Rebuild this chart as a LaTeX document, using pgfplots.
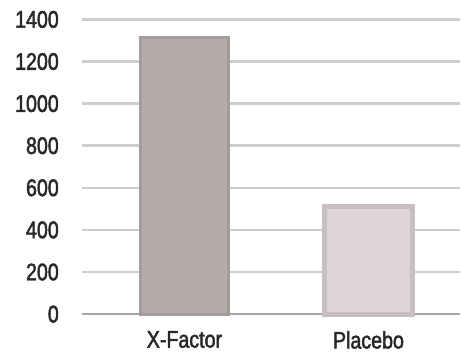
\documentclass[border=0pt]{standalone}
\usepackage{pgfplots}
\pgfplotsset{compat=1.18}
\usepackage{fontspec}
\setmainfont{Liberation Sans}[FakeStretch=0.82, FakeBold=2]
\definecolor{gridc}{RGB}{205,205,205}
\definecolor{xf}{RGB}{182,171,171}
\definecolor{xfb}{RGB}{165,155,155}
\definecolor{pl}{RGB}{222,214,214}
\definecolor{plb}{RGB}{200,192,192}
\definecolor{txt}{RGB}{40,40,40}
\begin{document}
\begin{tikzpicture}
\begin{axis}[
  scale only axis,
  width=189.5pt, height=147.75pt,
  xmin=-0.558, xmax=1.496,
  ymin=0, ymax=1400,
  ytick={0,200,...,1400},
  xtick={0,1},
  xticklabels={X-Factor,Placebo},
  axis x line*=bottom,
  axis y line*=left,
  y axis line style={draw=none},
  ymajorgrids,
  grid style={gridc, line width=1.3pt},
  major tick length=0pt,
  x axis line style={draw=gray!70, line width=1.1pt},
  tick label style={font=\fontsize{12}{13}\selectfont, text=txt},
  /pgf/number format/assume math mode=true,
  /pgf/number format/1000 sep={},
  yticklabel style={xshift=-8pt},
  xticklabel style={yshift=-5pt},
  clip=false,
]
\addplot[ybar, bar width=0.48, fill=xf, draw=xfb, line width=1.5pt] coordinates {(0,1312)};
\addplot[ybar, bar width=0.48, fill=pl, draw=plb, line width=2.5pt] coordinates {(1,510)};
\end{axis}
\path[use as bounding box] (current axis.south west) ++(-41pt,-20.5pt) rectangle ([yshift=9.75pt]current axis.north east);
\end{tikzpicture}
\end{document}
